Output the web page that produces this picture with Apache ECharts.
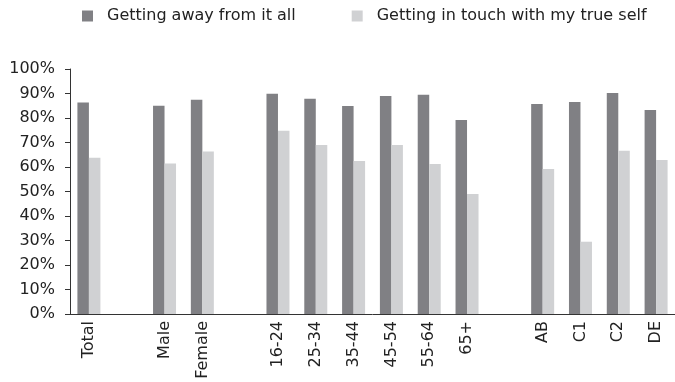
<!DOCTYPE html>
<html>
<head>
<meta charset="utf-8">
<script src="https://cdn.jsdelivr.net/npm/echarts@6/dist/echarts.min.js"></script>
<style>html,body{margin:0;padding:0;background:#fff}#c{width:675px;height:382px}</style>
</head>
<body>
<div id="c"></div>
<script>
var categories = ['Total', '', 'Male', 'Female', ' ', '16-24', '25-34', '35-44', '45-54', '55-64', '65+', '  ', 'AB', 'C1', 'C2', 'DE'];
var seriesNames = ['Getting away from it all', 'Getting in touch with my true self'];
var awayValues = [86.3, null, 85.0, 87.5, null, 89.9, 87.9, 84.9, 89.0, 89.5, 79.2, null, 85.7, 86.5, 90.2, 83.3];
var touchValues = [63.8, null, 61.4, 66.3, null, 74.8, 69.0, 62.5, 69.0, 61.2, 49.0, null, 59.2, 29.5, 66.6, 62.9];
var yTicks = [0, 10, 20, 30, 40, 50, 60, 70, 80, 90, 100];

var chart = echarts.init(document.getElementById('c'), null, {renderer: 'canvas'});
var font = '"DejaVu Sans", sans-serif';
chart.setOption({
  animation: false,
  backgroundColor: '#fff',
  legend: {
    left: 77, top: 3,
    itemWidth: 11, itemHeight: 11, itemGap: 56,
    icon: 'rect',
    textStyle: {fontFamily: font, fontSize: 16, color: '#222', padding: [0, 0, 0, 9]},
    data: seriesNames
  },
  grid: {left: 70, top: 69, width: 609, bottom: 68, containLabel: false},
  xAxis: {
    type: 'category',
    data: categories,
    axisLine: {lineStyle: {color: '#333', width: 1}},
    axisTick: {show: false},
    axisLabel: {rotate: 90, interval: 0, margin: 7, fontFamily: font, fontSize: 16, color: '#222'}
  },
  yAxis: {
    type: 'value',
    min: yTicks[0], max: yTicks[yTicks.length - 1], interval: 10,
    splitLine: {show: false},
    axisLine: {show: true, lineStyle: {color: '#333', width: 1}},
    axisTick: {show: true, length: 5, lineStyle: {color: '#333'}},
    axisLabel: {margin: 15, fontFamily: font, fontSize: 16, color: '#222', formatter: '{value}%'}
  },
  series: [
    {name: seriesNames[0], type: 'bar', data: awayValues, barWidth: 11.5, barGap: '0%', itemStyle: {color: '#808084'}},
    {name: seriesNames[1], type: 'bar', data: touchValues, barWidth: 11.5, barGap: '0%', itemStyle: {color: '#d0d1d3'}}
  ]
});
</script>
</body>
</html>
